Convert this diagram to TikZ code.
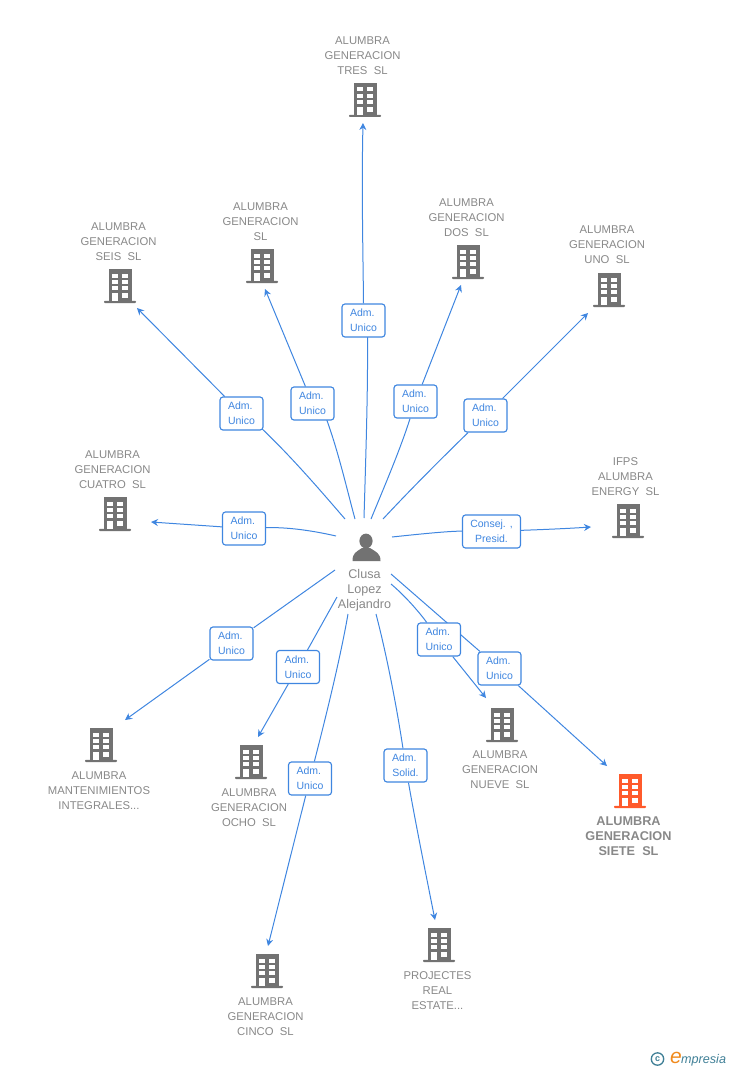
\documentclass[tikz,border=0pt]{standalone}
\usepackage{fontspec}
\setmainfont{Liberation Sans}
\usetikzlibrary{arrows.meta,backgrounds}
\definecolor{linkblue}{HTML}{3F86E0}
\definecolor{txtgray}{HTML}{888888}
\definecolor{icongray}{HTML}{727272}
\definecolor{hot}{HTML}{FF5A2B}
\definecolor{teal2}{HTML}{3F7F96}
\definecolor{orange2}{HTML}{F08A1D}
\newcommand\admtxt{Adm.\hphantom{i}}
\tikzset{
 x=1pt,y=-1pt,
 conn/.style={draw=linkblue,line width=1pt},
 tip/.style={conn,-{Stealth[length=7pt,width=7pt]}},
 lab/.style={draw=linkblue,line width=1.15pt,rounded corners=3pt,fill=white,minimum width=43pt,minimum height=33pt,
   inner sep=0pt,align=center,text=linkblue,font=\fontsize{10.5}{15}\selectfont},
 nm/.style={text=txtgray,align=center,font=\fontsize{11.3}{15}\selectfont,inner sep=0pt},
 hotname/.style={text=txtgray,align=center,font=\fontsize{12.7}{15}\selectfont\bfseries,inner sep=0pt},
 pics/bld/.style={code={
  \fill[#1] (-11.5,-17) rectangle (11.5,16);
  \fill[#1,rounded corners=0.8pt] (-16,14.8) rectangle (16,17);
  \foreach \yy in {-12.5,-6,0}{
    \fill[white] (-8.3,\yy) rectangle (-2.3,\yy+4);
    \fill[white] (1.7,\yy) rectangle (7.7,\yy+4);}
  \fill[white] (-8.3,7) rectangle (-2.3,15);
  \fill[white] (1.7,7) rectangle (7.7,12);
 }},
}
\begin{document}
\begin{tikzpicture}
\useasboundingbox (0,0) rectangle (728,1070);
% link labels
\node[lab] (l3) at (363.5,320.5) {\admtxt\\Unico};
\node[lab] (l0) at (312.5,403.5) {\admtxt\\Unico};
\node[lab] (l6) at (241.5,413.5) {\admtxt\\Unico};
\node[lab] (l2) at (415.5,401.5) {\admtxt\\Unico};
\node[lab] (l1) at (485.5,415.5) {\admtxt\\Unico};
\node[lab] (l4) at (244,528.5) {\admtxt\\Unico};
\node[lab,minimum width=58pt] (li) at (491.5,531.5) {Consej. ,\\Presid.};
\node[lab] (lm) at (231.5,643.5) {\admtxt\\Unico};
\node[lab] (l8) at (298,667) {\admtxt\\Unico};
\node[lab] (l5) at (310,778.5) {\admtxt\\Unico};
\node[lab] (lp) at (405.5,765.5) {\admtxt\\Solid.};
\node[lab] (l9) at (439,639.5) {\admtxt\\Unico};
\node[lab] (l7) at (499.5,668.5) {\admtxt\\Unico};
% connector ends
\coordinate (s3) at (364,518); \coordinate (e3) at (363,123); \coordinate (k3) at (367.5,330);
\coordinate (s0) at (355,519); \coordinate (e0) at (265,289); \coordinate (k0) at (323,410);
\coordinate (s6) at (345,519); \coordinate (e6) at (137,308); \coordinate (k6) at (258,425);
\coordinate (s2) at (371,519); \coordinate (e2) at (461,285);
\coordinate (s1) at (383,519); \coordinate (e1) at (588,313);
\coordinate (s4) at (336,536); \coordinate (e4) at (151,522);
\coordinate (si) at (392,537); \coordinate (ei) at (591,527);
\coordinate (sm) at (335,570); \coordinate (em) at (125,720);
\coordinate (s8) at (337,597); \coordinate (e8) at (258,737);
\coordinate (s5) at (348,614); \coordinate (e5) at (268,946);
\coordinate (sp) at (376,614); \coordinate (ep) at (435,920);
\coordinate (s9) at (391,584); \coordinate (e9) at (486,698);
\coordinate (s7) at (391,574); \coordinate (e7) at (607,766);
\begin{scope}[on background layer]
\draw[conn] (s3) .. controls (366,450) and (368,390) .. (k3);
\draw[tip] (l3.north) .. controls (363,250) and (361.5,190) .. (e3);
\draw[conn] (s0) .. controls (347,490) and (337,445) .. (k0);
\draw[tip] (l0) -- (e0);
\draw[conn] (s6) .. controls (320,490) and (290,455) .. (k6);
\draw[tip] (l6) -- (e6);
\draw[conn] (s2) .. controls (385,485) and (400,450) .. (l2);
\draw[tip] (l2) -- (e2);
\draw[conn] (s1) .. controls (410,490) and (440,460) .. (l1);
\draw[tip] (l1) -- (e1);
\draw[conn] (s4) .. controls (310,530) and (285,527) .. (l4);
\draw[tip] (l4) .. controls (210,526) and (180,524) .. (e4);
\draw[conn] (si) .. controls (420,534) and (450,531) .. (li);
\draw[tip] (li) .. controls (530,530) and (560,529) .. (ei);
\draw[conn] (sm) -- (lm);
\draw[tip] (lm) -- (em);
\draw[conn] (s8) -- (l8);
\draw[tip] (l8) -- (e8);
\draw[conn] (s5) .. controls (340,660) and (325,720) .. (l5);
\draw[tip] (l5) -- (e5);
\draw[conn] (sp) .. controls (388,660) and (398,715) .. (lp);
\draw[tip] (lp) .. controls (415,820) and (425,870) .. (ep);
\draw[conn] (s9) .. controls (410,600) and (425,620) .. (l9);
\draw[tip] (l9) -- (e9);
\draw[conn] (s7) -- (l7);
\draw[tip] (l7) -- (e7);
\end{scope}
% buildings
\pic at (365,100) {bld=icongray};
\pic at (262,266) {bld=icongray};
\pic at (468,262) {bld=icongray};
\pic at (609,290) {bld=icongray};
\pic at (120,286) {bld=icongray};
\pic at (115,514) {bld=icongray};
\pic at (628,521) {bld=icongray};
\pic at (101,745) {bld=icongray};
\pic at (251,762) {bld=icongray};
\pic at (502,725) {bld=icongray};
\pic at (630,791) {bld=hot};
\pic at (267,971) {bld=icongray};
\pic at (439,945) {bld=icongray};
% names
\node[nm] (n3) at (362.5,56) {ALUMBRA\\GENERACION\\TRES\ \ SL};
\node[nm] (n0) at (260.5,222) {ALUMBRA\\GENERACION\\SL};
\node[nm] (n2) at (466.5,218) {ALUMBRA\\GENERACION\\DOS\ \ SL};
\node[nm] (n1) at (607,245) {ALUMBRA\\GENERACION\\UNO\ \ SL};
\node[nm] (n6) at (118.5,242) {ALUMBRA\\GENERACION\\SEIS\ \ SL};
\node[nm] (n4) at (112.5,470) {ALUMBRA\\GENERACION\\CUATRO\ \ SL};
\node[nm] (ni) at (625.5,477) {IFPS\\ALUMBRA\\ENERGY\ \ SL};
\node[nm] (nm) at (99,791) {ALUMBRA\\MANTENIMIENTOS\\INTEGRALES...};
\node[nm] (n8) at (249,808) {ALUMBRA\\GENERACION\\OCHO\ \ SL};
\node[nm] (n9) at (500,770) {ALUMBRA\\GENERACION\\NUEVE\ \ SL};
\node[hotname] (n7) at (628.5,836) {ALUMBRA\\GENERACION\\SIETE\ \ SL};
\node[nm] (n5) at (265.5,1017) {ALUMBRA\\GENERACION\\CINCO\ \ SL};
\node[nm] (np) at (437.5,991) {PROJECTES\\REAL\\ESTATE...};
% person
\fill[icongray] (366,541) ellipse (6.6 and 7.4);
\fill[icongray] (352.5,561) .. controls (352.5,553) and (356,552) .. (362,548) -- (370,548) .. controls (376,552) and (380.5,553) .. (380.5,561) -- cycle;
\node[nm,font=\fontsize{12.6}{15}\selectfont] (pn) at (364.5,590.5) {Clusa\\Lopez\\Alejandro};
% logo
\draw[teal2,line width=1.3pt] (657.5,1059) circle (6.2);
\node[text=teal2,font=\fontsize{9}{9}\selectfont\bfseries,inner sep=0pt] (cc) at (657.5,1059) {c};
\node[text=orange2,font=\fontsize{21}{21}\selectfont\itshape,inner sep=0pt] (le) at (676,1057.5) {e};
\node[text=teal2,anchor=west,font=\fontsize{12.6}{12}\selectfont\itshape,inner sep=0pt] (lw) at (681,1060) {mpresia};
\end{tikzpicture}
\end{document}
